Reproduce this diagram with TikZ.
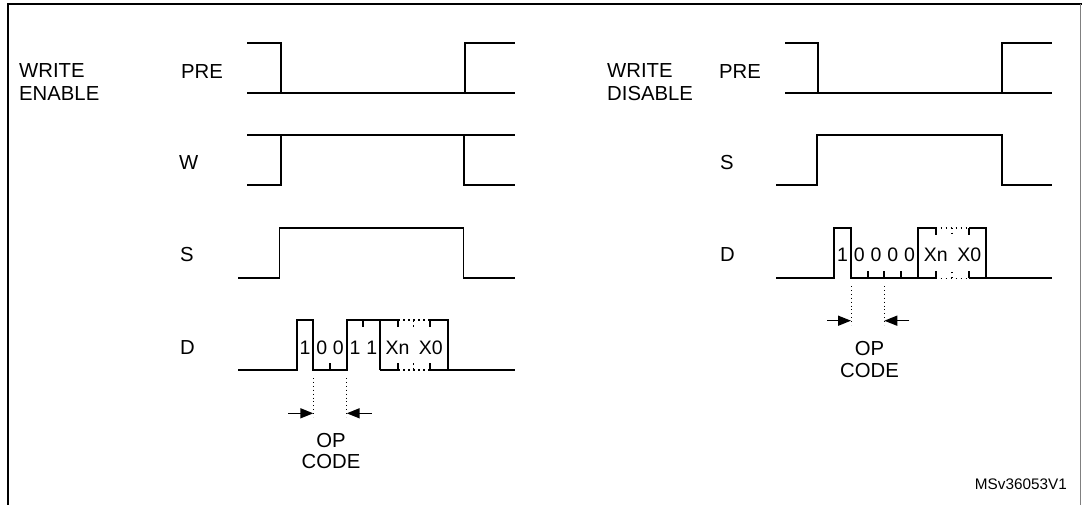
\documentclass[tikz,border=0pt]{standalone}
\usepackage{fontspec}
\setmainfont{Liberation Sans}
\usetikzlibrary{arrows.meta}

\begin{document}
\begin{tikzpicture}[x=1pt,y=-1pt,
  wave/.style={line width=1.9pt},
  dots/.style={line width=1.6pt,dash pattern=on 1.6pt off 3.4pt},
  guide/.style={line width=0.9pt,dash pattern=on 0.9pt off 3pt},
  meas/.style={-{Triangle[length=13pt,width=10pt]},line width=1.5pt},
  lbl/.style={inner sep=0pt,font=\fontsize{20.3}{23}\selectfont},
  bit/.style={inner sep=0pt,font=\fontsize{19.5}{21}\selectfont}]
  \useasboundingbox (0,0) rectangle (1082,504);
  % frame
  \draw[line width=2pt] (8,510) -- (8,3.7) -- (1082,3.7);
  \draw[line width=1pt,gray] (1080.8,3.7) -- (1080.8,510);

  % signal names
  \node[lbl,anchor=north west,align=left] (wen) at (19,63) {WRITE\\ENABLE};
  \node[lbl,anchor=west] (lpre) at (181,72) {PRE};
  \node[lbl,anchor=west] (lw) at (179,163) {W};
  \node[lbl,anchor=west] (ls) at (180,255) {S};
  \node[lbl,anchor=west] (ld) at (180,348) {D};
  \node[lbl,anchor=north west,align=left] (wdis) at (607,63) {WRITE\\DISABLE};
  \node[lbl,anchor=west] (rpre) at (719,72) {PRE};
  \node[lbl,anchor=west] (rs) at (720,163) {S};
  \node[lbl,anchor=west] (rd) at (720,255) {D};

  % write enable: PRE, W, S
  \draw[wave] (247,42.7) -- (281,42.7) -- (281,92.7);
  \draw[wave] (247,92.7) -- (515,92.7);
  \draw[wave] (465,92.7) -- (465,42.7) -- (515,42.7);
  \draw[wave] (247,135) -- (515,135);
  \draw[wave] (247,185) -- (281,185) -- (281,135);
  \draw[wave] (464.3,135) -- (464.3,185) -- (515,185);
  \draw[wave] (238,278) -- (279.5,278) -- (279.5,227.7) -- (463.5,227.7)
    -- (463.5,278) -- (515,278);

  % write enable: D
  \draw[wave] (238,370) -- (296.7,370) -- (296.7,320) -- (313.3,320) -- (313.3,370)
    -- (346.7,370) -- (346.7,320) -- (380,320) -- (380,370);
  \draw[wave] (330,370) -- (330,363) (363.3,320) -- (363.3,327);
  \draw[wave] (398.3,320) -- (380,320) (380,370) -- (398.3,370);
  \draw[wave] (430,320) -- (448,320) -- (448,370) -- (430,370) (448,370) -- (515,370);
  \foreach \x in {398.3,430} \draw[wave] (\x,320) -- (\x,327) (\x,370) -- (\x,363);
  \draw[dots] (398.3,320) -- (430,320) (398.3,370) -- (430,370)
    (413.3,320) -- (413.3,327) (413.3,370) -- (413.3,363);
  \foreach \b [count=\i from 0] in {1,0,0,1,1}
    \node[bit] (lb\i) at (305+16.67*\i,348) {\b};
  \node[bit] (lxn) at (397.5,348) {Xn};
  \node[bit] (lx0) at (430.7,348) {X0};

  % write enable: op code
  \coordinate (lo1) at (313.3,413.3);
  \coordinate (lo2) at (346.7,413.3);
  \coordinate (la1) at (288.3,413.3);
  \coordinate (la2) at (371.7,413.3);
  \draw[guide] (313.3,378) -- (313.3,417) (346.7,378) -- (346.7,417);
  \draw[meas] (la1) -- (lo1);
  \draw[meas] (la2) -- (lo2);
  \node[lbl,anchor=north,align=center,font=\fontsize{20.3}{21.7}\selectfont] (lop) at (331,432.8) {OP\\CODE};

  % write disable: PRE, S
  \draw[wave] (785,42.7) -- (818.3,42.7) -- (818.3,92.7);
  \draw[wave] (785,92.7) -- (1052,92.7);
  \draw[wave] (1002,92.7) -- (1002,42.7) -- (1052,42.7);
  \draw[wave] (776,185) -- (817.3,185) -- (817.3,135) -- (1002,135)
    -- (1002,185) -- (1052,185);

  % write disable: D
  \draw[wave] (776,278.3) -- (834,278.3) -- (834,227.7) -- (851,227.7) -- (851,278.3)
    -- (935.7,278.3) (918.3,278.3) -- (918.3,227.7) -- (935.7,227.7);
  \foreach \x in {867.7,884.3,901} \draw[wave] (\x,278.3) -- (\x,271.3);
  \draw[wave] (969.3,227.7) -- (986,227.7) -- (986,278.3) -- (969.3,278.3) (986,278.3) -- (1052,278.3);
  \foreach \x in {935.7,969.3} \draw[wave] (\x,227.7) -- (\x,234.7) (\x,278.3) -- (\x,271.3);
  \draw[dots] (935.7,227.7) -- (969.3,227.7) (935.7,278.3) -- (969.3,278.3)
    (951.7,227.7) -- (951.7,234.7) (951.7,278.3) -- (951.7,271.3);
  \foreach \b [count=\i from 0] in {1,0,0,0,0}
    \node[bit] (rb\i) at (842.5+16.75*\i,255) {\b};
  \node[bit] (rxn) at (935.7,255) {Xn};
  \node[bit] (rx0) at (969.3,255) {X0};

  % write disable: op code
  \coordinate (ro1) at (851,320.7);
  \coordinate (ro2) at (884.3,320.7);
  \coordinate (ra1) at (827.3,320.7);
  \coordinate (ra2) at (909.3,320.7);
  \draw[guide] (851,286) -- (851,325) (884.3,286) -- (884.3,325);
  \draw[meas] (ra1) -- (ro1);
  \draw[meas] (ra2) -- (ro2);
  \node[lbl,anchor=north,align=center,font=\fontsize{20.3}{21.7}\selectfont] (rop) at (869.5,341) {OP\\CODE};

  \node[inner sep=0pt,anchor=east,font=\fontsize{15.3}{17}\selectfont] (ref) at (1067,484.7) {MSv36053V1};
\end{tikzpicture}
\end{document}
